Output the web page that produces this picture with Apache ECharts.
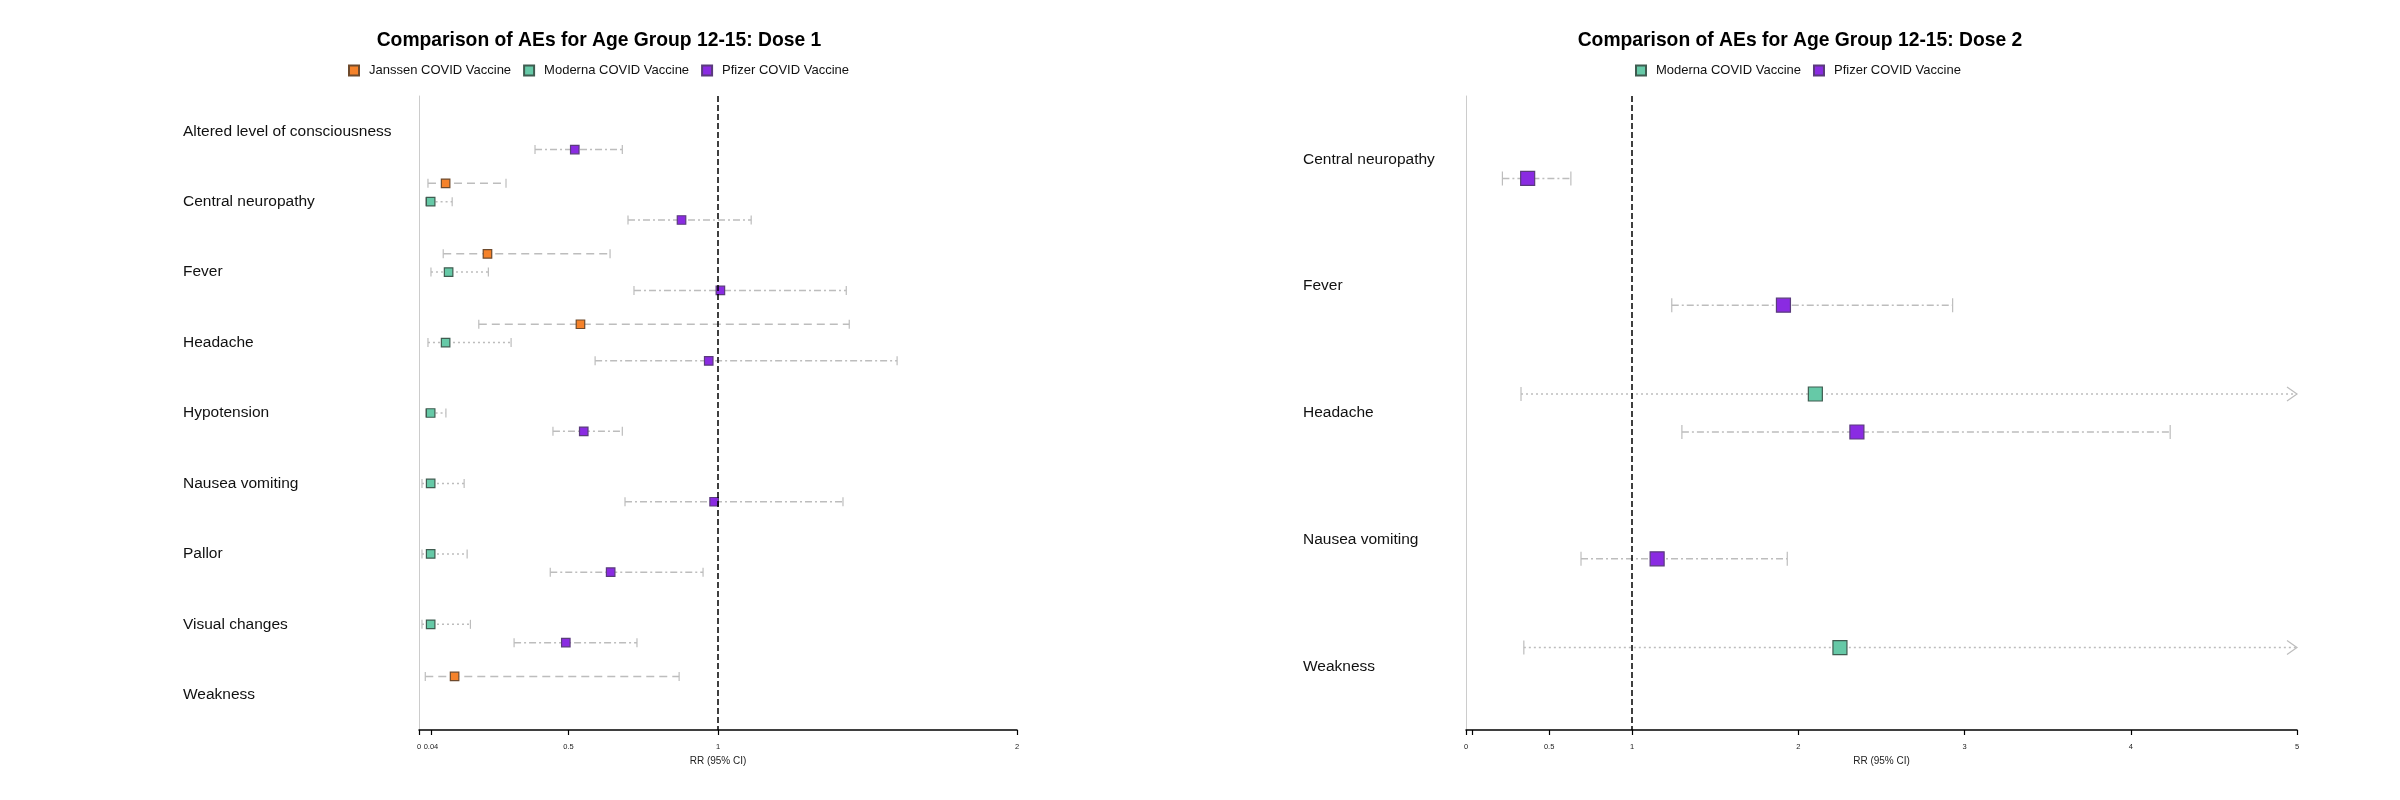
<!DOCTYPE html>
<html>
<head>
<meta charset="utf-8">
<title>Comparison of AEs for Age Group 12-15</title>
<script src="https://cdn.jsdelivr.net/npm/echarts@6/dist/echarts.min.js"></script>
<style>
  html, body { margin:0; padding:0; background:#fff; }
  #chart { width:2400px; height:800px; }
</style>
</head>
<body>
<div id="chart"></div>
<script>
// ===== Data (RR with 95% CI, null = no estimate, Infinity = upper bound beyond axis)
const vaccines = ['Janssen COVID Vaccine','Moderna COVID Vaccine','Pfizer COVID Vaccine'];

const dose1Categories = ['Altered level of consciousness','Central neuropathy','Fever','Headache','Hypotension','Nausea vomiting','Pallor','Visual changes','Weakness'];
const d1JanssenRR = [null, 0.089, 0.229, 0.540, null, null, null, null, 0.119];
const d1JanssenLo = [null, 0.030, 0.081, 0.200, null, null, null, null, 0.021];
const d1JanssenHi = [null, 0.291, 0.639, 1.439, null, null, null, null, 0.870];
const d1ModernaRR = [null, 0.039, 0.099, 0.089, 0.039, 0.039, 0.039, 0.039, null];
const d1ModernaLo = [null, 0.022, 0.040, 0.030, 0.022, 0.010, 0.010, 0.010, null];
const d1ModernaHi = [null, 0.111, 0.232, 0.308, 0.090, 0.151, 0.161, 0.172, null];
const d1PfizerRR  = [0.521, 0.878, 1.008, 0.969, 0.551, 0.987, 0.641, 0.491, null];
const d1PfizerLo  = [0.388, 0.699, 0.719, 0.589, 0.448, 0.689, 0.439, 0.318, null];
const d1PfizerHi  = [0.680, 1.111, 1.429, 1.599, 0.680, 1.418, 0.950, 0.729, null];

const dose2Categories = ['Central neuropathy','Fever','Headache','Nausea vomiting','Weakness'];
const d2ModernaRR = [null, null, 2.102, null, 2.250];
const d2ModernaLo = [null, null, 0.331, null, 0.348];
const d2ModernaHi = [null, null, Infinity, null, Infinity];
const d2PfizerRR  = [0.371, 1.910, 2.352, 1.150, null];
const d2PfizerLo  = [0.219, 1.238, 1.299, 0.692, null];
const d2PfizerHi  = [0.631, 2.928, 4.237, 1.933, null];

const d1Ticks  = [0, 0.04, 0.5, 1, 2];
const d1Labels = [0, 0.04, 0.5, 1, 2];
const d2Ticks  = [0, 0.04, 0.5, 1, 2, 3, 4, 5];
const d2Labels = [0, 0.5, 1, 2, 3, 4, 5];

// ===== Styles
const COLORS  = { 'Janssen COVID Vaccine':'#f5822a', 'Moderna COVID Vaccine':'#66c9a7', 'Pfizer COVID Vaccine':'#8a2be2' };
const BORDERS = { 'Janssen COVID Vaccine':'#6e4a2c', 'Moderna COVID Vaccine':'#3f5c50', 'Pfizer COVID Vaccine':'#5a3b7c' };
const DASHES  = { 'Janssen COVID Vaccine':[8,5], 'Moderna COVID Vaccine':[2,3], 'Pfizer COVID Vaccine':[7,3,2,3] };
const FONT = '"Liberation Sans", Arial, sans-serif';
const CI_COLOR = '#bdbdbd';

const chart = echarts.init(document.getElementById('chart'));

// panel layout
const PANELS = [
  { cats: dose1Categories, xmax: 2, ticks: d1Ticks, labels: d1Labels,
    grid: { left: 419, right: 1383, top: 96, bottom: 70 }, labelMargin: 236, labelPad: 7,
    markerSize: 8.5, capHalf: 4.5,
    title: 'Comparison of AEs for Age Group 12-15: Dose 1', titleX: 599, legendLeft: 348,
    series: [
      { name: vaccines[0], rr: d1JanssenRR, lo: d1JanssenLo, hi: d1JanssenHi, off: -0.26 },
      { name: vaccines[1], rr: d1ModernaRR, lo: d1ModernaLo, hi: d1ModernaHi, off: 0 },
      { name: vaccines[2], rr: d1PfizerRR,  lo: d1PfizerLo,  hi: d1PfizerHi,  off: 0.26 }
    ] },
  { cats: dose2Categories, xmax: 5, ticks: d2Ticks, labels: d2Labels,
    grid: { left: 1466, right: 103, top: 96, bottom: 70 }, labelMargin: 163, labelPad: 10,
    markerSize: 14, capHalf: 7,
    title: 'Comparison of AEs for Age Group 12-15: Dose 2', titleX: 1800, legendLeft: 1635,
    series: [
      { name: vaccines[1], rr: d2ModernaRR, lo: d2ModernaLo, hi: d2ModernaHi, off: -0.15 },
      { name: vaccines[2], rr: d2PfizerRR,  lo: d2PfizerLo,  hi: d2PfizerHi,  off: 0.15 }
    ] }
];

function ciRenderer(name, capHalf){
  return function(params, api){
    const lo = api.value(0), hi = api.value(1), y = api.value(2), arrow = api.value(3);
    const a = api.coord([lo, y]), b = api.coord([hi, y]);
    const thin = { stroke: CI_COLOR, lineWidth: 1.2, fill: 'none' };
    const kids = [
      { type:'line', shape:{ x1:a[0], y1:a[1], x2:b[0], y2:b[1] },
        style:{ stroke: CI_COLOR, lineWidth: 1.5, lineDash: DASHES[name] } },
      { type:'line', shape:{ x1:a[0], y1:a[1]-capHalf, x2:a[0], y2:a[1]+capHalf }, style: thin }
    ];
    if (arrow) {
      kids.push({ type:'polyline', shape:{ points:[[b[0]-10,b[1]-7],[b[0],b[1]],[b[0]-10,b[1]+7]] }, style: thin });
    } else {
      kids.push({ type:'line', shape:{ x1:b[0], y1:b[1]-capHalf, x2:b[0], y2:b[1]+capHalf }, style: thin });
    }
    return { type:'group', children: kids };
  };
}

const grids = [], xAxes = [], yAxes = [], series = [], titles = [], legends = [];

PANELS.forEach((p, gi) => {
  grids.push(p.grid);
  xAxes.push({
    type:'value', gridIndex: gi, min: 0, max: p.xmax,
    name: 'RR (95% CI)', nameLocation: 'middle', nameGap: 24,
    nameTextStyle: { fontFamily: FONT, fontSize: 10, color: '#222' },
    axisLine: { show: true, onZero: false, lineStyle: { color: '#000', width: 1.5 } },
    axisTick: { show: true, length: 5, lineStyle: { color: '#000', width: 1.2 }, customValues: p.ticks },
    axisLabel: { fontFamily: FONT, fontSize: 7.5, color: '#222', margin: 13, customValues: p.labels },
    splitLine: { show: false }
  });
  // category axis for the labels
  yAxes.push({
    type:'category', gridIndex: gi, data: p.cats, inverse: true, boundaryGap: true,
    axisLine: { show: true, lineStyle: { color: '#cccccc', width: 1 } },
    axisTick: { show: false },
    axisLabel: { align: 'left', margin: p.labelMargin, fontFamily: FONT, fontSize: 15.5, color: '#111',
                 padding: [p.labelPad, 0, 0, 0] },
    splitLine: { show: false }
  });
  // hidden value axis for placing the marks
  yAxes.push({ type:'value', gridIndex: gi, min: -0.5, max: p.cats.length - 0.5, inverse: true, show: false });
  const yIdx = gi * 2 + 1;

  titles.push({
    text: p.title, left: p.titleX, top: 31, textAlign: 'center', padding: 0,
    textStyle: { fontFamily: FONT, fontSize: 19.3, fontWeight: 'bold', color: '#000' }
  });
  legends.push({
    data: p.series.map(s => s.name), left: p.legendLeft, top: 64, padding: 0,
    itemWidth: 10, itemHeight: 10, itemGap: 12, icon: 'rect',
    textStyle: { fontFamily: FONT, fontSize: 13, color: '#111', padding: [0,0,0,5] }
  });

  p.series.forEach((s, si) => {
    const ciData = [], ptData = [];
    s.rr.forEach((v, i) => {
      if (v == null) return;
      const arrow = s.hi[i] > p.xmax ? 1 : 0;
      ciData.push([s.lo[i], arrow ? p.xmax : s.hi[i], i + s.off, arrow]);
      ptData.push([v, i + s.off]);
    });
    series.push({
      type:'custom', xAxisIndex: gi, yAxisIndex: yIdx, silent: true, z: 2,
      renderItem: ciRenderer(s.name, p.capHalf), data: ciData,
      encode: { x: [0, 1], y: 2 }, clip: false
    });
    const sc = {
      type:'scatter', name: s.name, xAxisIndex: gi, yAxisIndex: yIdx, z: 4,
      symbol: 'rect', symbolSize: p.markerSize, data: ptData,
      itemStyle: { color: COLORS[s.name], borderColor: BORDERS[s.name], borderWidth: 1.2, opacity: 1 }
    };
    if (si === 0) {
      sc.markLine = {
        silent: true, symbol: ['none','none'], label: { show: false },
        lineStyle: { color: '#000', type: [6,3], width: 1.5 },
        data: [{ xAxis: 1 }], animation: false
      };
    }
    series.push(sc);
  });
});

chart.setOption({
  backgroundColor: '#fff',
  animation: false,
  title: titles,
  legend: legends,
  grid: grids,
  xAxis: xAxes,
  yAxis: yAxes,
  series: series
});
</script>
</body>
</html>
